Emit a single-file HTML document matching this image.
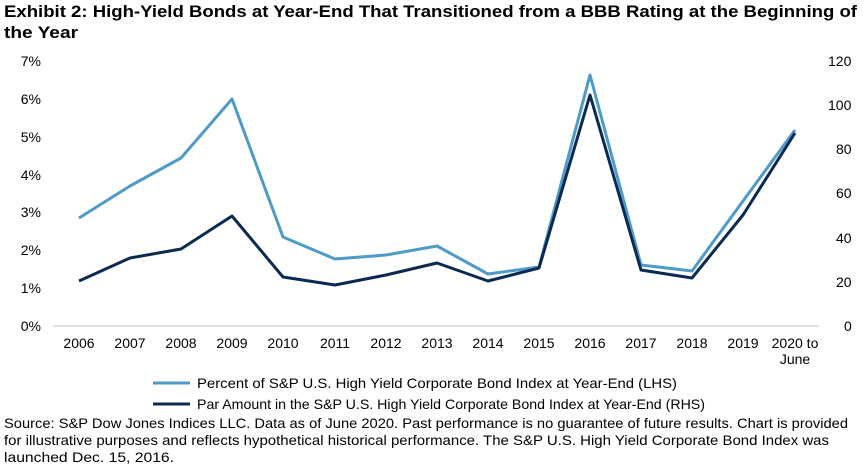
<!DOCTYPE html>
<html><head><meta charset="utf-8"><style>
body{margin:0;background:#fff;width:866px;height:469px;overflow:hidden;font-family:"Liberation Sans",Arial,sans-serif;}
</style></head><body>
<svg width="866" height="469" xmlns="http://www.w3.org/2000/svg" font-family="Liberation Sans, Arial, sans-serif">
<text x="4" y="17" font-size="16.5" font-weight="bold" fill="#000" textLength="853" lengthAdjust="spacingAndGlyphs">Exhibit 2: High-Yield Bonds at Year-End That Transitioned from a BBB Rating at the Beginning of</text>
<text x="4" y="38" font-size="16.5" font-weight="bold" fill="#000" textLength="74" lengthAdjust="spacingAndGlyphs">the Year</text>
<g font-size="14" fill="#000" text-anchor="end">
<text x="41" y="66">7%</text><text x="41" y="104">6%</text><text x="41" y="142">5%</text><text x="41" y="180">4%</text><text x="41" y="217">3%</text><text x="41" y="255">2%</text><text x="41" y="293">1%</text><text x="41" y="331">0%</text>
</g>
<g font-size="14" fill="#000" text-anchor="start">
<text x="828" y="66">120</text><text x="828" y="110">100</text><text x="836" y="154">80</text><text x="836" y="198">60</text><text x="836" y="243">40</text><text x="836" y="287">20</text><text x="844" y="331">0</text>
</g>
<line x1="53" y1="326" x2="819" y2="326" stroke="#bfbfbf" stroke-width="1"/>
<g font-size="14" fill="#000" text-anchor="middle">
<text x="79" y="348">2006</text><text x="130" y="348">2007</text><text x="181" y="348">2008</text><text x="232" y="348">2009</text><text x="283" y="348">2010</text><text x="335" y="348">2011</text><text x="386" y="348">2012</text><text x="437" y="348">2013</text><text x="488" y="348">2014</text><text x="539" y="348">2015</text><text x="590" y="348">2016</text><text x="641" y="348">2017</text><text x="692" y="348">2018</text><text x="743" y="348">2019</text><text x="795" y="348">2020 to</text><text x="795" y="364">June</text>
</g>
<polyline fill="none" stroke="#4f9bc8" stroke-width="3" stroke-linejoin="round" points="79,218 130,186 181,158 232,99 283,237 335,259 386,255 437,246 488,274 539,267 590,75 641,265 692,271 743,201 795,130"/>
<polyline fill="none" stroke="#0b2a53" stroke-width="3" stroke-linejoin="round" points="79,281 130,258 181,249 232,216 283,277 335,285 386,275 437,263 488,281 539,268 590,95 641,270 692,278 743,215 795,133"/>
<line x1="153" y1="383" x2="190" y2="383" stroke="#4f9bc8" stroke-width="3"/>
<text x="197" y="388" font-size="14" textLength="480" lengthAdjust="spacingAndGlyphs">Percent of S&amp;P U.S. High Yield Corporate Bond Index at Year-End (LHS)</text>
<line x1="153" y1="404" x2="190" y2="404" stroke="#0b2a53" stroke-width="3"/>
<text x="197" y="409" font-size="14" textLength="508" lengthAdjust="spacingAndGlyphs">Par Amount in the S&amp;P U.S. High Yield Corporate Bond Index at Year-End (RHS)</text>
<g font-size="14" fill="#000">
<text x="4" y="428" textLength="844" lengthAdjust="spacingAndGlyphs">Source: S&amp;P Dow Jones Indices LLC. Data as of June 2020. Past performance is no guarantee of future results. Chart is provided</text>
<text x="4" y="445" textLength="825" lengthAdjust="spacingAndGlyphs">for illustrative purposes and reflects hypothetical historical performance. The S&amp;P U.S. High Yield Corporate Bond Index was</text>
<text x="4" y="462" textLength="170" lengthAdjust="spacingAndGlyphs">launched Dec. 15, 2016.</text>
</g>
</svg>
</body></html>
